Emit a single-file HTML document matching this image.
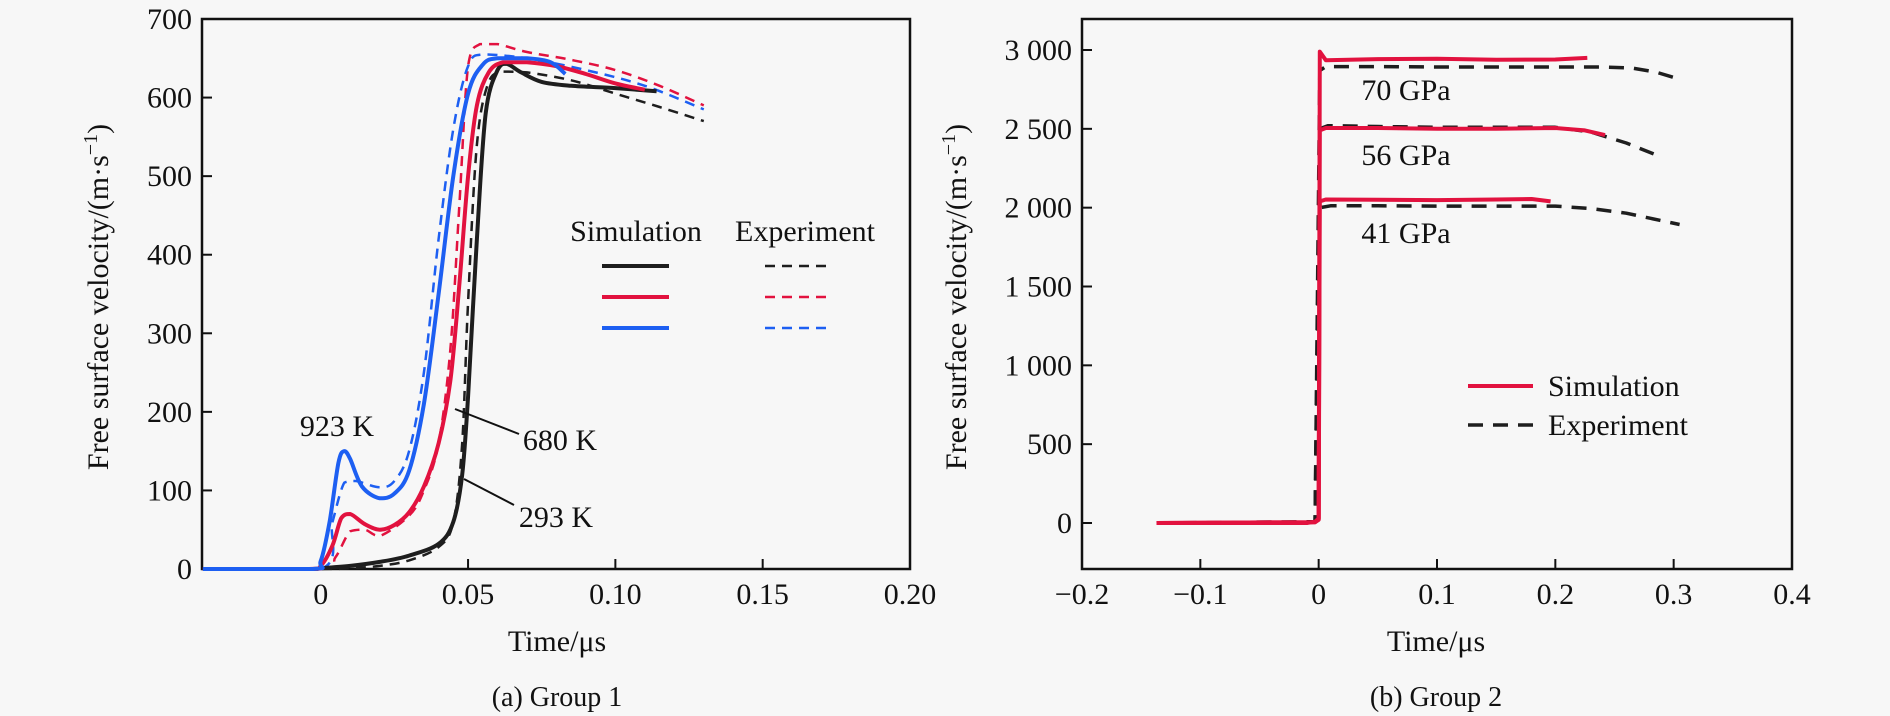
<!DOCTYPE html>
<html><head><meta charset="utf-8">
<style>
html,body{margin:0;padding:0;background:#f7f7f7;}
svg{display:block;font-family:"Liberation Serif",serif;}
text{fill:#111;}
</style></head>
<body>
<svg id="chart" width="1890" height="716" viewBox="0 0 1890 716" xmlns="http://www.w3.org/2000/svg">
<rect x="0" y="0" width="1890" height="716" fill="#f7f7f7"/>
<g id="left"></g>
<g id="right"></g>
</svg>
<script>
// ---------- Group 1 data ----------
const g1XTicks = [0, 0.05, 0.10, 0.15, 0.20];
const g1XTickLabels = ["0", "0.05", "0.10", "0.15", "0.20"];
const g1YTicks = [0, 100, 200, 300, 400, 500, 600, 700];
const g1YTickLabels = ["0", "100", "200", "300", "400", "500", "600", "700"];
const g1BlackSimT = [-0.04,-0.005,0,0.01,0.02,0.03,0.04,0.045,0.048,0.05,0.053,0.056,0.06,0.063,0.068,0.075,0.085,0.10,0.114];
const g1BlackSimV = [0,0,1,4,9,17,32,60,120,220,420,580,635,643,632,620,615,612,608];
const g1BlackExpT = [-0.04,0,0.01,0.02,0.03,0.04,0.045,0.048,0.05,0.053,0.057,0.062,0.07,0.085,0.10,0.115,0.13];
const g1BlackExpV = [0,0,1,4,11,28,60,160,340,540,620,633,632,622,605,588,570];
const g1RedSimT = [-0.04,-0.004,0,0.004,0.007,0.01,0.015,0.02,0.025,0.03,0.035,0.04,0.044,0.047,0.05,0.053,0.057,0.062,0.07,0.08,0.09,0.10,0.11];
const g1RedSimV = [0,0,4,30,65,70,57,50,56,72,105,160,240,360,500,590,632,645,645,640,630,618,610];
const g1RedExpT = [-0.04,0,0.005,0.01,0.015,0.02,0.03,0.035,0.04,0.044,0.047,0.05,0.054,0.06,0.07,0.085,0.10,0.115,0.13];
const g1RedExpV = [0,0,15,48,50,42,68,100,160,280,460,640,668,668,658,648,635,615,590];
const g1BlueSimT = [-0.04,-0.003,0,0.003,0.006,0.008,0.01,0.014,0.02,0.025,0.03,0.035,0.04,0.045,0.05,0.055,0.06,0.07,0.078,0.083];
const g1BlueSimV = [0,0,10,60,135,150,140,105,90,96,125,210,350,500,605,642,650,650,645,630];
const g1BlueExpT = [-0.04,0,0.004,0.008,0.012,0.02,0.025,0.03,0.035,0.04,0.045,0.05,0.055,0.07,0.09,0.11,0.13];
const g1BlueExpV = [0,0,60,110,112,104,112,150,250,420,560,640,655,650,635,615,585];

// ---------- Group 2 data ----------
const g2XTicks = [-0.2,-0.1,0,0.1,0.2,0.3,0.4];
const g2XTickLabels = ["\u22120.2","\u22120.1","0","0.1","0.2","0.3","0.4"];
const g2YTicks = [0,500,1000,1500,2000,2500,3000];
const g2YTickLabels = ["0","500","1 000","1 500","2 000","2 500","3 000"];
const g2Sim70T = [-0.137,-0.01,-0.003,0,0.001,0.006,0.05,0.1,0.15,0.2,0.227];
const g2Sim70V = [0,0,8,30,2990,2935,2942,2945,2938,2940,2950];
const g2Exp70T = [-0.137,-0.01,-0.003,0.001,0.006,0.05,0.1,0.15,0.2,0.24,0.265,0.285,0.305];
const g2Exp70V = [0,0,10,2870,2895,2895,2892,2892,2892,2892,2885,2860,2815];
const g2Sim56T = [-0.137,-0.003,0,0.001,0.006,0.05,0.1,0.15,0.2,0.225,0.242];
const g2Sim56V = [0,5,25,2490,2505,2505,2500,2500,2505,2490,2460];
const g2Exp56T = [-0.137,-0.003,0.001,0.008,0.05,0.1,0.15,0.2,0.23,0.26,0.29];
const g2Exp56V = [0,8,2500,2520,2515,2510,2510,2510,2480,2410,2320];
const g2Sim41T = [-0.137,-0.003,0,0.001,0.006,0.05,0.1,0.15,0.18,0.196];
const g2Sim41V = [0,5,20,2040,2052,2050,2048,2052,2055,2040];
const g2Exp41T = [-0.137,-0.003,0.001,0.01,0.05,0.1,0.15,0.2,0.23,0.26,0.305];
const g2Exp41V = [0,6,2000,2012,2012,2010,2010,2010,1995,1965,1893];

const NS = "http://www.w3.org/2000/svg";
function el(parent, tag, attrs, txt){
  const e = document.createElementNS(NS, tag);
  for (const k in attrs) e.setAttribute(k, attrs[k]);
  if (txt !== undefined) e.textContent = txt;
  parent.appendChild(e);
  return e;
}
function scale(d0,d1,r0,r1){ return v => r0 + (v-d0)/(d1-d0)*(r1-r0); }
function linePath(ts, vs, sx, sy){
  return ts.map((t,i)=>(i?"L":"M")+sx(t).toFixed(1)+","+sy(vs[i]).toFixed(1)).join("");
}
function clamp(v,a,b){ const lo=Math.min(a,b), hi=Math.max(a,b); return Math.max(lo,Math.min(hi,v)); }
function smoothPath(ts, vs, sx, sy){
  const p = ts.map((t,i)=>[sx(t), sy(vs[i])]);
  let d = "M"+p[0][0].toFixed(1)+","+p[0][1].toFixed(1);
  for (let i=0;i<p.length-1;i++){
    const p0=p[Math.max(0,i-1)], p1=p[i], p2=p[i+1], p3=p[Math.min(p.length-1,i+2)];
    const k=1/6;
    const c1=[p1[0]+(p2[0]-p0[0])*k, clamp(p1[1]+(p2[1]-p0[1])*k,p1[1],p2[1])];
    const c2=[p2[0]-(p3[0]-p1[0])*k, clamp(p2[1]-(p3[1]-p1[1])*k,p1[1],p2[1])];
    d+="C"+c1[0].toFixed(1)+","+c1[1].toFixed(1)+" "+c2[0].toFixed(1)+","+c2[1].toFixed(1)+" "+p2[0].toFixed(1)+","+p2[1].toFixed(1);
  }
  return d;
}
function axes(g, L, R, T, B, sx, sy, xt, xl, yt, yl){
  const frame = el(g,"rect",{x:L,y:T,width:R-L,height:B-T,fill:"none",stroke:"#111","stroke-width":2.5});
  
  
  xt.forEach((v,i)=>{
    const x=sx(v);
    const tk=el(g,"line",{x1:x,y1:B,x2:x,y2:B-10,stroke:"#111","stroke-width":2});
    
    
    const lb=el(g,"text",{x:x,y:B+35,"text-anchor":"middle","font-size":30},xl[i]);
    
    
  });
  yt.forEach((v,i)=>{
    const y=sy(v);
    const tk=el(g,"line",{x1:L,y1:y,x2:L+10,y2:y,stroke:"#111","stroke-width":2});
    
    
    const lb=el(g,"text",{x:L-10,y:y+10,"text-anchor":"end","font-size":30},yl[i]);
    
    
  });
}
const BLACK="#1e1e1e", RED="#e2123f", BLUE="#1d5ff2";

// ---------- Left chart ----------
(function(){
  const g=document.getElementById("left");
  const L=202,R=910,T=19,B=569;
  const sx=scale(-0.0403,0.20,L,R), sy=scale(0,700,B,T);
  axes(g,L,R,T,B,sx,sy,g1XTicks,g1XTickLabels,g1YTicks,g1YTickLabels);
  const series=[
    [g1BlackExpT,g1BlackExpV,BLACK,true,'exp-293k'],
    [g1RedExpT,g1RedExpV,RED,true,'exp-680k'],
    [g1BlueExpT,g1BlueExpV,BLUE,true,'exp-923k'],
    [g1BlackSimT,g1BlackSimV,BLACK,false,'sim-293k'],
    [g1RedSimT,g1RedSimV,RED,false,'sim-680k'],
    [g1BlueSimT,g1BlueSimV,BLUE,false,'sim-923k']
  ];
  series.forEach(s=>{
    const p=el(g,"path",{d:smoothPath(s[0],s[1],sx,sy),fill:"none",stroke:s[2],"stroke-width":s[3]?2.5:4,"stroke-dasharray":s[3]?"10 7":"none","stroke-linejoin":"round"});
    
    
  });
  const yt=el(g,"text",{x:0,y:0,"font-size":30,"text-anchor":"middle",transform:"translate(108,297) rotate(-90)"},"Free surface velocity/(m\u00b7s");
  el(yt,"tspan",{"font-size":20,dy:-11},"\u22121");
  el(yt,"tspan",{"font-size":30,dy:11},")");
  
  
  const xt=el(g,"text",{x:557,y:651,"font-size":30,"text-anchor":"middle"},"Time/\u03bcs");
  
  
  const cap=el(g,"text",{x:557,y:706,"font-size":28,"text-anchor":"middle"},"(a) Group 1");
  
  
  const h1=el(g,"text",{x:636,y:241,"font-size":30,"text-anchor":"middle"},"Simulation");
  
  
  const h2=el(g,"text",{x:805,y:241,"font-size":30,"text-anchor":"middle"},"Experiment");
  
  
  [[266,BLACK],[297,RED],[328,BLUE]].forEach((r,i)=>{
    const a=el(g,"line",{x1:602,y1:r[0],x2:669,y2:r[0],stroke:r[1],"stroke-width":4});
    
    
    const b=el(g,"line",{x1:765,y1:r[0],x2:826,y2:r[0],stroke:r[1],"stroke-width":2.5,"stroke-dasharray":"10 7"});
    
    
  });
  const a1=el(g,"text",{x:337,y:436,"font-size":30,"text-anchor":"middle"},"923 K");
  
  
  const a2=el(g,"text",{x:560,y:450,"font-size":30,"text-anchor":"middle"},"680 K");
  
  
  const a3=el(g,"text",{x:556,y:527,"font-size":30,"text-anchor":"middle"},"293 K");
  
  
  const l1=el(g,"line",{x1:455,y1:409,x2:519,y2:434,stroke:"#111","stroke-width":2});
  
  
  const l2=el(g,"line",{x1:464,y1:479,x2:514,y2:505,stroke:"#111","stroke-width":2});
  
  
})();

// ---------- Right chart ----------
(function(){
  const g=document.getElementById("right");
  const L=1082,R=1792,T=19,B=569;
  const sx=scale(-0.2,0.4,L,R), sy=scale(0,3000,523,50);
  axes(g,L,R,T,B,sx,sy,g2XTicks,g2XTickLabels,g2YTicks,g2YTickLabels);
  const series=[
    [g2Exp70T,g2Exp70V,true,'exp-70gpa'],[g2Exp56T,g2Exp56V,true,'exp-56gpa'],[g2Exp41T,g2Exp41V,true,'exp-41gpa'],
    [g2Sim70T,g2Sim70V,false,'sim-70gpa'],[g2Sim56T,g2Sim56V,false,'sim-56gpa'],[g2Sim41T,g2Sim41V,false,'sim-41gpa']
  ];
  series.forEach(s=>{
    const p=el(g,"path",{d:linePath(s[0],s[1],sx,sy),fill:"none",stroke:s[2]?BLACK:RED,"stroke-width":s[2]?3.5:4,"stroke-dasharray":s[2]?"15 10":"none","stroke-linejoin":"round"});
    
    
  });
  const yt=el(g,"text",{x:0,y:0,"font-size":30,"text-anchor":"middle",transform:"translate(966,297) rotate(-90)"},"Free surface velocity/(m\u00b7s");
  el(yt,"tspan",{"font-size":20,dy:-11},"\u22121");
  el(yt,"tspan",{"font-size":30,dy:11},")");
  
  
  const xt=el(g,"text",{x:1436,y:651,"font-size":30,"text-anchor":"middle"},"Time/\u03bcs");
  
  
  const cap=el(g,"text",{x:1436,y:706,"font-size":28,"text-anchor":"middle"},"(b) Group 2");
  
  
  [["70 GPa",100,'label-70gpa'],["56 GPa",165,'label-56gpa'],["41 GPa",243,'label-41gpa']].forEach(a=>{
    const t=el(g,"text",{x:1406,y:a[1],"font-size":30,"text-anchor":"middle"},a[0]);
    
    
  });
  const s1=el(g,"line",{x1:1468,y1:386,x2:1533,y2:386,stroke:RED,"stroke-width":4});
  
  
  const t1=el(g,"text",{x:1548,y:396,"font-size":30},"Simulation");
  
  
  const s2=el(g,"line",{x1:1468,y1:425,x2:1533,y2:425,stroke:BLACK,"stroke-width":3.5,"stroke-dasharray":"15 10"});
  
  
  const t2=el(g,"text",{x:1548,y:435,"font-size":30},"Experiment");
  
  
})();
</script>
</body></html>
